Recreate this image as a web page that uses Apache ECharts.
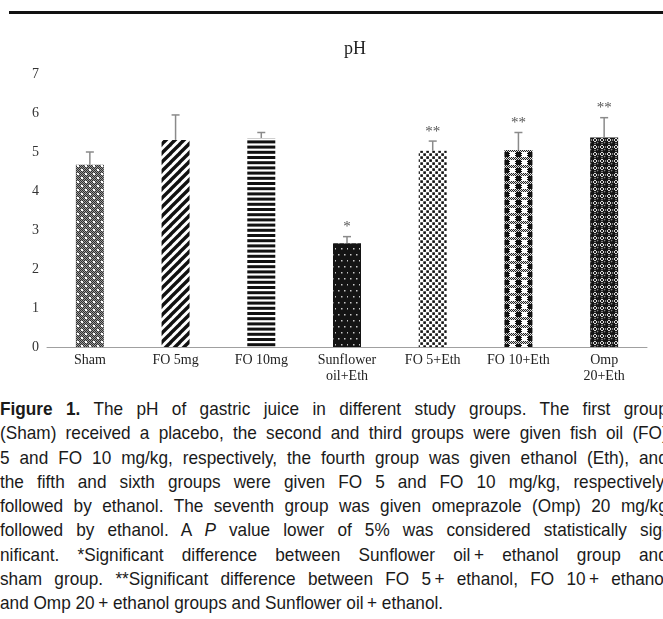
<!DOCTYPE html>
<html>
<head>
<meta charset="utf-8">
<script src="https://cdn.jsdelivr.net/npm/echarts@6/dist/echarts.min.js"></script>
<style>
  html, body { margin: 0; padding: 0; background: #fff; width: 663px; height: 619px; overflow: hidden; }
  #rule { position: absolute; left: 9px; top: 11px; width: 654px; height: 3px; background: #111; }
  #chart { position: absolute; left: 0; top: 0; width: 663px; height: 395px; }
  #caption { position: absolute; left: 0; top: 397px; width: 718px; transform: scaleX(0.93); transform-origin: 0 0; font-family: "Liberation Sans", Arial, sans-serif; font-size: 18.5px; line-height: 24.3px; color: #1a1a1a; }
  #caption div { white-space: nowrap; text-align: justify; text-align-last: justify; }
  #caption div.last { text-align-last: left; }
</style>
</head>
<body>
<div id="rule"></div>
<div id="chart"></div>
<div id="caption">
  <div><b>Figure 1.</b> The pH of gastric juice in different study groups. The first group</div>
  <div>(Sham) received a placebo, the second and third groups were given fish oil (FO)</div>
  <div>5 and FO 10 mg/kg, respectively, the fourth group was given ethanol (Eth), and</div>
  <div>the fifth and sixth groups were given FO 5 and FO 10 mg/kg, respectively,</div>
  <div>followed by ethanol. The seventh group was given omeprazole (Omp) 20 mg/kg</div>
  <div>followed by ethanol. A <i>P</i> value lower of 5% was considered statistically sig-</div>
  <div>nificant. *Significant difference between Sunflower oil&#8201;+ ethanol group and</div>
  <div>sham group. **Significant difference between FO 5&#8201;+ ethanol, FO 10&#8201;+ ethanol</div>
  <div class="last">and Omp 20&#8201;+ ethanol groups and Sunflower oil&#8201;+ ethanol.</div>
</div>
<script>
// ---- data ----
const categories = ['Sham', 'FO 5mg', 'FO 10mg', 'Sunflower\noil+Eth', 'FO 5+Eth', 'FO 10+Eth', 'Omp\n20+Eth'];
const means = [4.67, 5.31, 5.36, 2.66, 5.03, 5.05, 5.37];
const errors = [0.33, 0.64, 0.14, 0.17, 0.25, 0.45, 0.51];
const marks = ['', '', '', '*', '**', '**', '**'];
const yMin = 0, yMax = 7, yStep = 1;
const titleText = 'pH';

// ---- patterns ----
function pat(w, h, draw) {
  const c = document.createElement('canvas');
  c.width = w; c.height = h;
  const g = c.getContext('2d');
  draw(g, w, h);
  return { image: c, repeat: 'repeat' };
}
function checker(g, x0, y0, w, h, a, b) {
  for (let y = y0; y < y0 + h; y++) for (let x = x0; x < x0 + w; x++) {
    g.fillStyle = ((x + y) % 2 === 0) ? a : b;
    g.fillRect(x, y, 1, 1);
  }
}
const patterns = [
  // Sham: gray fine checker with white dots
  pat(8, 8, (g, w, h) => {
    checker(g, 0, 0, w, h, '#2e2e2e', '#9a9a9a');
    g.fillStyle = '#fff';
    g.fillRect(1, 1, 2, 2);
    g.fillRect(5, 5, 2, 2);
  }),
  // FO 5mg: diagonal stripes
  pat(9, 9, (g, w, h) => {
    g.fillStyle = '#fff'; g.fillRect(0, 0, w, h);
    g.strokeStyle = '#111'; g.lineWidth = 3.4;
    for (let k = -1; k <= 1; k++) {
      g.beginPath();
      g.moveTo(k * w - 1, h + 1);
      g.lineTo(k * w + w + 1, -1);
      g.stroke();
    }
  }),
  // FO 10mg: horizontal stripes
  pat(4, 26, (g, w, h) => {
    g.fillStyle = '#fff'; g.fillRect(0, 0, w, h);
    g.fillStyle = '#111';
    for (let i = 0; i < 5; i++) g.fillRect(0, i * 5.2, w, 3);
  }),
  // Sunflower: black with small light dots
  pat(12, 12, (g, w, h) => {
    g.fillStyle = '#141414'; g.fillRect(0, 0, w, h);
    g.fillStyle = '#c8c8c8';
    g.fillRect(2, 2, 1.5, 1.5); g.fillRect(8, 2, 1.5, 1.5);
    g.fillRect(5, 8, 1.5, 1.5); g.fillRect(11, 8, 1.5, 1.5);
  }),
  // FO 5+Eth: white with staggered black squares
  pat(6, 6, (g, w, h) => {
    g.fillStyle = '#fff'; g.fillRect(0, 0, w, h);
    g.fillStyle = '#111';
    g.fillRect(0.3, 0.3, 2.6, 2.6);
    g.fillRect(3.3, 3.3, 2.6, 2.6);
  }),
  // FO 10+Eth: grid of black squares, white blocks, gray checker bands
  pat(12, 8, (g, w, h) => {
    g.fillStyle = '#fff'; g.fillRect(0, 0, w, h);
    g.fillStyle = '#111'; g.fillRect(0, 0, 5, 5);
    checker(g, 5, 0, 1, 5, '#111', '#fff');
    checker(g, 11, 0, 1, 5, '#111', '#fff');
    checker(g, 0, 5, 12, 3, '#222', '#ddd');
  }),
  // Omp: black spheres on checker
  pat(7, 7, (g, w, h) => {
    checker(g, 0, 0, w, h, '#222', '#e0e0e0');
    g.fillStyle = '#151515';
    g.beginPath(); g.arc(3.5, 3.5, 3.0, 0, Math.PI * 2); g.fill();
    g.fillStyle = '#8a8a8a';
    g.beginPath(); g.arc(2.6, 2.6, 0.8, 0, Math.PI * 2); g.fill();
  })
];

const chart = echarts.init(document.getElementById('chart'), null, { renderer: 'canvas' });
const serif = '"Liberation Serif", "DejaVu Serif", serif';

chart.setOption({
  animation: false,
  backgroundColor: 'transparent',
  title: {
    text: titleText,
    left: 339, top: 35,
    textStyle: { fontFamily: serif, fontSize: 18, fontWeight: 'normal', color: '#222' }
  },
  grid: { left: 47, right: 16, top: 74, height: 273, containLabel: false },
  xAxis: {
    type: 'category',
    data: categories,
    axisLine: { lineStyle: { color: '#a0a0a0', width: 1 } },
    axisTick: { show: false },
    axisLabel: { fontFamily: serif, fontSize: 14, color: '#222', margin: 5, lineHeight: 16, interval: 0 }
  },
  yAxis: {
    type: 'value',
    min: yMin, max: yMax, interval: yStep,
    axisLine: { show: false },
    axisTick: { show: false },
    splitLine: { show: false },
    axisLabel: { fontFamily: serif, fontSize: 14, color: '#333', margin: 8 }
  },
  series: [
    {
      type: 'bar',
      data: means.map((v, i) => ({ value: v, itemStyle: { color: patterns[i] } })),
      barWidth: 28
    },
    {
      type: 'custom',
      data: means.map((v, i) => [i, v, v + errors[i], marks[i]]),
      renderItem: function (params, api) {
        const x = api.value(0);
        const p0 = api.coord([x, api.value(1)]);
        const p1 = api.coord([x, api.value(2)]);
        const cap = 4;
        const children = [
          { type: 'line', shape: { x1: p0[0], y1: p0[1], x2: p1[0], y2: p1[1] }, style: { stroke: '#8a8a8a', lineWidth: 1.5 } },
          { type: 'line', shape: { x1: p1[0] - cap, y1: p1[1], x2: p1[0] + cap, y2: p1[1] }, style: { stroke: '#8a8a8a', lineWidth: 1.5 } }
        ];
        const m = marks[params.dataIndex];
        if (m) {
          children.push({
            type: 'text',
            style: { text: m, x: p1[0], y: p1[1] - 2, align: 'center', verticalAlign: 'bottom', fontFamily: serif, fontSize: 15, fill: '#555' }
          });
        }
        return { type: 'group', children: children };
      },
      z: 5
    }
  ]
});
</script>
</body>
</html>
